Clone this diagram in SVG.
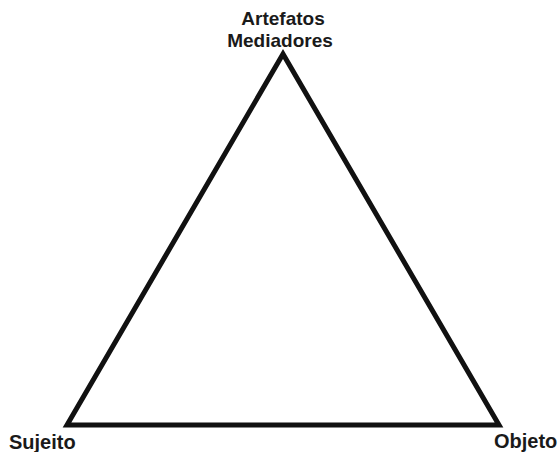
<svg xmlns="http://www.w3.org/2000/svg" width="560" height="452" viewBox="0 0 560 452">
<style>
.lbl{font-family:"Liberation Sans",Arial,sans-serif;font-weight:bold;font-size:20px;fill:#1a1a1a}
.top{font-size:19px}
.edge{stroke:#111;stroke-width:5;fill:none;stroke-linejoin:miter;stroke-miterlimit:10}
</style>
<rect width="560" height="452" fill="#fff"/>
<g id="connectors">
<polygon class="edge" points="283,54 67,425 499,425"/>
</g>
<g id="node-artefatos">
<text class="lbl top" x="283" y="25" text-anchor="middle">Artefatos</text>
<text class="lbl top" x="280" y="47" text-anchor="middle">Mediadores</text>
</g>
<g id="node-sujeito">
<text class="lbl" x="9" y="449">Sujeito</text>
</g>
<g id="node-objeto">
<text class="lbl" x="494" y="448">Objeto</text>
</g>
</svg>
